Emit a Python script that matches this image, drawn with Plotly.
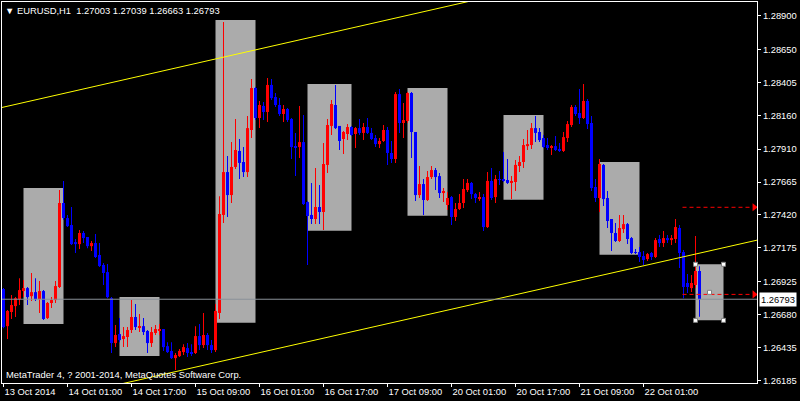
import plotly.graph_objects as go

# ---------------- data (EURUSD H1, bar index 0 = 13 Oct 2014 09:00) ----------------
opens = [1.26869,1.26593,1.26698,1.26742,1.26794,1.26854,1.26876,1.26816,1.26846,1.26794,
         1.26854,1.26653,1.26765,1.26787,1.26884,1.27509,1.27397,1.27345,1.27218,1.27203,
         1.27286,1.27256,1.27188,1.27211,1.27122,1.27048,1.26995,1.26801,1.26467,1.26534,
         1.26497,1.26512,1.26564,1.26661,1.26586,1.26593,1.26557,1.26467,1.26542,1.26564,
         1.26571,1.26444,1.26408,1.26355,1.26370,1.26400,1.26430,1.26400,1.26393,1.26519,
         1.26452,1.26527,1.26452,1.26415,1.26691,1.27420,1.27739,1.27568,1.27777,1.27896,
         1.27814,1.27739,1.28052,1.28364,1.28141,1.28231,1.28186,1.28387,1.28297,1.28238,
         1.28171,1.28208,1.28134,1.27932,1.27925,1.27962,1.27516,1.27420,1.27390,1.27479,
         1.27442,1.27792,1.28082,1.28238,1.28082,1.27985,1.28022,1.28074,1.28022,1.28066,
         1.28030,1.28074,1.28030,1.27992,1.27947,1.27970,1.28052,1.27881,1.27836,1.28319,
         1.28104,1.28119,1.28327,1.28037,1.27568,1.27650,1.27531,1.27702,1.27754,1.27709,
         1.27583,1.27494,1.27553,1.27405,1.27464,1.27509,1.27605,1.27658,1.27575,1.27546,
         1.27553,1.27330,1.27673,1.27553,1.27687,1.27687,1.27680,1.27658,1.27665,1.27784,
         1.27814,1.27932,1.27940,1.28066,1.28037,1.27992,1.27940,1.27918,1.27932,1.27910,
         1.27896,1.27992,1.28089,1.28223,1.28178,1.28141,1.28268,1.28104,1.27628,1.27546,
         1.27792,1.27546,1.27390,1.27286,1.27226,1.27315,1.27352,1.27248,1.27144,1.27144,
         1.27114,1.27092,1.27137,1.27107,1.27241,1.27211,1.27248,1.27233,1.27241,1.27323,
         1.27144,1.26914,1.26876,1.26899,1.27003]
highs = [1.26876,1.26713,1.26824,1.26809,1.26950,1.26936,1.26884,1.26988,1.26950,1.26929,
         1.26861,1.26772,1.26809,1.26929,1.27605,1.27673,1.27420,1.27479,1.27241,1.27308,
         1.27301,1.27256,1.27226,1.27278,1.27211,1.27063,1.27055,1.26809,1.26601,1.26653,
         1.26586,1.26586,1.26787,1.26757,1.26683,1.26653,1.26564,1.26586,1.26601,1.26608,
         1.26571,1.26474,1.26474,1.26393,1.26422,1.26459,1.26467,1.26459,1.26593,1.26608,
         1.26691,1.26542,1.26489,1.26757,1.27560,1.28855,1.27858,1.27962,1.28134,1.27985,
         1.27925,1.28156,1.28431,1.28372,1.28268,1.28260,1.28438,1.28431,1.28327,1.28289,
         1.28238,1.28216,1.28141,1.28030,1.28231,1.28164,1.27524,1.27658,1.27769,1.27643,
         1.27955,1.28134,1.28275,1.28387,1.28082,1.28045,1.28096,1.28082,1.28074,1.28134,
         1.28104,1.28141,1.28066,1.28015,1.27992,1.28089,1.28074,1.27970,1.28334,1.28357,
         1.28253,1.28334,1.28334,1.28037,1.27784,1.27687,1.27747,1.27784,1.27769,1.27732,
         1.27620,1.27590,1.27561,1.27509,1.27575,1.27687,1.27687,1.27665,1.27583,1.27590,
         1.27575,1.27739,1.27769,1.27717,1.27747,1.27888,1.27836,1.27709,1.27829,1.27858,
         1.27985,1.28052,1.28104,1.28156,1.28066,1.28015,1.27992,1.27940,1.28007,1.27955,
         1.28037,1.28119,1.28238,1.28238,1.28357,1.28394,1.28282,1.28156,1.27687,1.27836,
         1.27799,1.27598,1.27390,1.27360,1.27420,1.27420,1.27360,1.27256,1.27166,1.27181,
         1.27152,1.27137,1.27144,1.27248,1.27270,1.27301,1.27270,1.27270,1.27390,1.27345,
         1.27159,1.26981,1.26973,1.27263,1.27039]
lows = [1.26578,1.26497,1.26646,1.26661,1.26750,1.26809,1.26750,1.26780,1.26780,1.26691,
        1.26638,1.26646,1.26727,1.26765,1.26876,1.27382,1.27330,1.27196,1.27137,1.27166,
        1.27211,1.27173,1.27152,1.27100,1.27033,1.26899,1.26801,1.26393,1.26437,1.26474,
        1.26437,1.26437,1.26542,1.26564,1.26549,1.26527,1.26393,1.26437,1.26527,1.26527,
        1.26408,1.26393,1.26348,1.26266,1.26363,1.26378,1.26363,1.26370,1.26385,1.26415,
        1.26430,1.26415,1.26393,1.26400,1.26646,1.27360,1.27405,1.27509,1.27762,1.27687,
        1.27702,1.27702,1.27992,1.28126,1.28066,1.28126,1.28111,1.28275,1.28223,1.28156,
        1.28111,1.28111,1.27836,1.27709,1.27843,1.27494,1.27048,1.27352,1.27352,1.27352,
        1.27308,1.27732,1.28015,1.28059,1.27903,1.27873,1.27977,1.28007,1.27918,1.28015,
        1.27977,1.28022,1.27977,1.27925,1.27918,1.27962,1.27792,1.27807,1.27807,1.28030,
        1.27992,1.28104,1.27843,1.27524,1.27546,1.27420,1.27524,1.27687,1.27605,1.27546,
        1.27516,1.27457,1.27345,1.27375,1.27457,1.27472,1.27590,1.27538,1.27509,1.27524,
        1.27301,1.27323,1.27531,1.27509,1.27643,1.27665,1.27650,1.27538,1.27598,1.27739,
        1.27769,1.27903,1.27910,1.27962,1.27962,1.27918,1.27903,1.27866,1.27896,1.27888,
        1.27888,1.27962,1.28074,1.28156,1.28096,1.28134,1.28059,1.27598,1.27516,1.27442,
        1.27486,1.27323,1.27152,1.27218,1.27218,1.27286,1.27203,1.27129,1.27129,1.27070,
        1.27048,1.27077,1.27085,1.27100,1.27181,1.27181,1.27211,1.27196,1.27211,1.27025,
        1.26801,1.26839,1.26846,1.26876,1.26663]
closes = [1.26586,1.26706,1.26750,1.26801,1.26861,1.26876,1.26809,1.26846,1.26794,1.26854,
          1.26646,1.26765,1.26787,1.26891,1.27509,1.27397,1.27337,1.27203,1.27203,1.27286,
          1.27248,1.27188,1.27211,1.27107,1.27040,1.26988,1.26809,1.26467,1.26527,1.26489,
          1.26519,1.26564,1.26661,1.26586,1.26593,1.26549,1.26467,1.26549,1.26571,1.26571,
          1.26437,1.26400,1.26355,1.26378,1.26408,1.26437,1.26393,1.26393,1.26519,1.26452,
          1.26527,1.26452,1.26415,1.26706,1.27427,1.27739,1.27568,1.27777,1.27903,1.27807,
          1.27739,1.28066,1.28364,1.28141,1.28238,1.28186,1.28387,1.28289,1.28238,1.28171,
          1.28208,1.28126,1.27925,1.27925,1.27962,1.27501,1.27412,1.27390,1.27479,1.27442,
          1.27799,1.28089,1.28245,1.28066,1.27970,1.28037,1.28074,1.28015,1.28066,1.28030,
          1.28074,1.28030,1.27985,1.27947,1.27970,1.28052,1.27881,1.27836,1.28319,1.28104,
          1.28126,1.28327,1.28037,1.27568,1.27650,1.27531,1.27702,1.27754,1.27702,1.27583,
          1.27598,1.27546,1.27405,1.27464,1.27509,1.27613,1.27658,1.27575,1.27546,1.27553,
          1.27330,1.27673,1.27546,1.27687,1.27680,1.27673,1.27658,1.27673,1.27792,1.27814,
          1.27940,1.27947,1.28066,1.28030,1.27977,1.27925,1.27918,1.27932,1.27903,1.27896,
          1.27999,1.28096,1.28223,1.28171,1.28141,1.28268,1.28096,1.27620,1.27546,1.27799,
          1.27538,1.27375,1.27286,1.27226,1.27323,1.27352,1.27241,1.27137,1.27137,1.27107,
          1.27085,1.27129,1.27107,1.27233,1.27211,1.27248,1.27233,1.27248,1.27330,1.27137,
          1.26884,1.26884,1.26914,1.27003,1.26793]
bar_index = list(range(len(opens)))

# x-axis labels (bar index -> label)
xtick_index = [0, 16, 32, 48, 64, 80, 96, 112, 128, 144, 160]
xtick_text = ["13 Oct 2014", "14 Oct 01:00", "14 Oct 17:00", "15 Oct 09:00", "16 Oct 01:00",
              "16 Oct 17:00", "17 Oct 09:00", "20 Oct 01:00", "20 Oct 17:00", "21 Oct 09:00",
              "22 Oct 01:00"]
# price-axis labels
ytick_vals = [1.28900, 1.28650, 1.28405, 1.28160, 1.27910, 1.27665, 1.27420, 1.27175,
              1.26925, 1.26680, 1.26435, 1.26185]

# session boxes: start bar, end bar, top price, bottom price
box_start = [5, 29, 53, 76, 101, 125, 149, 173]
box_end = [15, 39, 63, 87, 111, 135, 159, 180]
box_top = [1.27620, 1.26809, 1.28870, 1.28394, 1.28364, 1.28163, 1.27814, 1.27053]
box_bottom = [1.26608, 1.26370, 1.26618, 1.27303, 1.27414, 1.27533, 1.27124, 1.26636]

# channel lines: two anchor points each (bar index, price)
upper_x = [0, 100]
upper_p = [1.28222, 1.28898]
lower_x = [144, 188]
lower_p = [1.26934, 1.27230]

# order level arrows
order_levels = [1.27477, 1.26829]
order_start = 169.75
order_end = 187.7

bid_price = 1.26793
title_text = "EURUSD,H1\u00a0\u00a01.27003 1.27039 1.26663 1.26793"

# ---------------- figure ----------------
UP = "#FF0000"
DOWN = "#0000FF"
FONT = "Liberation Sans, Arial, sans-serif"
FS = 9.4
PX = (1.29004 - 1.26170) / 381.0  # price per pixel (for minimum body height)

colors = [UP if c >= o else DOWN for o, c in zip(opens, closes)]
body_base = [min(o, c) for o, c in zip(opens, closes)]
body_h = [max(abs(c - o), PX) for o, c in zip(opens, closes)]
wick_h = [h - l for h, l in zip(highs, lows)]

fig = go.Figure()

# session boxes
for s, e, t, b in zip(box_start, box_end, box_top, box_bottom):
    fig.add_shape(type="rect", x0=s, x1=e, y0=b, y1=t, xref="x", yref="y",
                  fillcolor="#ABABAB", line=dict(width=0), layer="below")

# channel
def extend(xs, ps, x0, x1):
    k = (ps[1] - ps[0]) / (xs[1] - xs[0])
    return [x0, x1], [ps[0] + k * (x0 - xs[0]), ps[0] + k * (x1 - xs[0])]

ux, up = extend(upper_x, upper_p, -2, 130)
lx, lp = extend(lower_x, lower_p, 20, 192)
for xx, pp in ((ux, up), (lx, lp)):
    fig.add_trace(go.Scatter(x=xx, y=pp, mode="lines", line=dict(color="#FFFF00", width=1),
                             hoverinfo="skip"))

# bid line
fig.add_trace(go.Scatter(x=[-1, 190], y=[bid_price, bid_price], mode="lines",
                         line=dict(color="#8A9098", width=1), hoverinfo="skip"))

# wicks and bodies
fig.add_trace(go.Bar(x=bar_index, y=wick_h, base=lows, width=0.25,
                     marker=dict(color=colors, line=dict(width=0))))
fig.add_trace(go.Bar(x=bar_index, y=body_h, base=body_base, width=0.75,
                     marker=dict(color=colors, line=dict(width=0))))

# order level arrows
for lvl in order_levels:
    fig.add_trace(go.Scatter(x=[order_start, order_end - 0.6], y=[lvl, lvl], mode="lines",
                             line=dict(color="#FF0000", width=1, dash="4px,3px"),
                             hoverinfo="skip"))
    fig.add_trace(go.Scatter(x=[order_end], y=[lvl], mode="markers", cliponaxis=False,
                             marker=dict(symbol="triangle-right", size=7, color="#FF0000",
                                         line=dict(width=0)), hoverinfo="skip"))

# selection handles on last box
s, e, t, b = box_start[-1], box_end[-1], box_top[-1], box_bottom[-1]
fig.add_trace(go.Scatter(x=[s, e, s, e, (s + e) / 2], y=[t, t, b, b, (t + b) / 2],
                         mode="markers",
                         marker=dict(symbol="square", size=4, color="#FFFFFF",
                                     line=dict(color="#808080", width=1)),
                         hoverinfo="skip"))

fig.update_layout(
    width=800, height=401,
    margin=dict(l=2, r=43, t=2, b=18, pad=0),
    paper_bgcolor="#000000", plot_bgcolor="#000000",
    barmode="overlay", showlegend=False, hovermode=False,
    font=dict(family=FONT, color="#FFFFFF", size=FS),
    xaxis=dict(range=[-0.375, 188.375], tickvals=xtick_index, ticktext=xtick_text,
               tickangle=0, ticks="outside", ticklen=3, tickcolor="#FFFFFF", tickwidth=1,
               showline=True, mirror=True, linecolor="#FFFFFF", linewidth=1,
               showgrid=False, zeroline=False, ticklabelposition="outside right",
               tickfont=dict(family=FONT, size=FS, color="#FFFFFF")),
    yaxis=dict(range=[1.26170, 1.29004], side="right", tickvals=ytick_vals,
               ticktext=["%.5f" % v for v in ytick_vals],
               ticks="outside", ticklen=3, tickcolor="#FFFFFF", tickwidth=1,
               showline=True, mirror=True, linecolor="#FFFFFF", linewidth=1,
               showgrid=False, zeroline=False,
               tickfont=dict(family=FONT, size=FS, color="#FFFFFF")),
    annotations=[
        dict(text="\u25bc " + title_text, xref="paper", yref="paper", x=0, y=0.979,
             xanchor="left", yanchor="middle", xshift=1, showarrow=False,
             font=dict(family=FONT, size=FS, color="#FFFFFF")),
        dict(text="MetaTrader 4, ? 2001-2014, MetaQuotes Software Corp.", xref="paper",
             yref="paper", x=0, y=0.021, xanchor="left", yanchor="middle", xshift=2,
             showarrow=False, font=dict(family=FONT, size=FS, color="#FFFFFF")),
        dict(text="%.5f" % bid_price, xref="paper", yref="y", x=1, y=bid_price,
             xanchor="left", yanchor="middle", xshift=2, showarrow=False,
             bgcolor="#FFFFFF", borderpad=1,
             font=dict(family=FONT, size=FS, color="#000000")),
    ],
)

fig.write_html("out.html", config={"displayModeBar": False},
               post_script="document.body.style.margin='0';document.body.style.background='#000';")
